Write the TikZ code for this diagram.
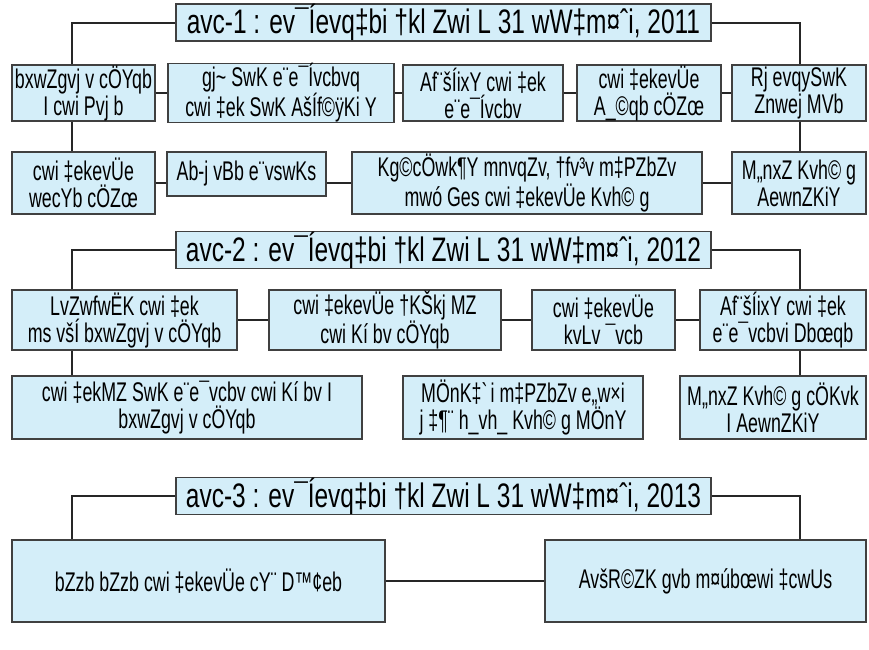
\documentclass[tikz,border=0pt]{standalone}
\usepackage{fontspec}
\setmainfont[FakeStretch=0.66]{Liberation Sans}
\newfontfamily\headfont[FakeStretch=0.72]{Liberation Sans}
\definecolor{boxfill}{HTML}{D4EEF9}

\begin{document}
\begin{tikzpicture}[x=1pt,y=-1pt,
    box/.style={draw=black!75,fill=boxfill,line width=1.2pt,align=center,inner sep=0pt,font=\fontsize{27}{27}\selectfont},
    head/.style={box,minimum width=535pt,minimum height=37pt,font=\headfont\fontsize{34}{34}\selectfont},
    link/.style={draw=black!85,line width=2pt}]
    \useasboundingbox (0,0) rectangle (869,649);
    \coordinate (lx) at (72,0);
    \coordinate (rx) at (800,0);

    \node[head] (h1) at (443.5,22.5) {avc-1 : ev¯Íevq‡bi †kl Zwi L 31 wW‡m¤ˆi, 2011};
    \node[box,minimum width=143pt,minimum height=56pt] (r1a) at (83.5,93) {bxwZgvj v cÖYqb\\I cwi Pvj b};
    \node[box,minimum width=226pt,minimum height=56pt] (r1b) at (281,93) {gj\textasciitilde{} SwK e¨e¯Ívcbvq\\cwi ‡ek SwK AšÍf©ÿKi Y};
    \node[box,minimum width=160pt,minimum height=56pt] (r1c) at (483,93) {Af¨šÍixY cwi ‡ek\\e¨e¯Ívcbv};
    \node[box,minimum width=144pt,minimum height=56pt] (r1d) at (649,93) {cwi ‡ekevÜe\\A\_©qb cÖZœ};
    \node[box,minimum width=134pt,minimum height=56pt] (r1e) at (799,93) {Rj evqySwK\\Znwej MVb};

    \node[box,minimum width=143pt,minimum height=62pt] (r2a) at (83.5,183) {cwi ‡ekevÜe\\wecYb cÖZœ};
    \node[box,minimum width=159pt,minimum height=44pt] (r2b) at (246.5,174) {Ab-j vBb e¨vswKs};
    \node[box,minimum width=350pt,minimum height=62pt] (r2c) at (527,183) {Kg©cÖwk¶Y mnvqZv, †fv³v m‡PZbZv\\mwó Ges cwi ‡ekevÜe Kvh© g};
    \node[box,minimum width=134pt,minimum height=62pt] (r2d) at (799,183) {M„nxZ Kvh© g\\AewnZKiY};

    \node[head] (h2) at (443.5,250) {avc-2 : ev¯Íevq‡bi †kl Zwi L 31 wW‡m¤ˆi, 2012};
    \node[box,minimum width=225pt,minimum height=60pt] (r3a) at (124.5,320) {LvZwfwËK cwi ‡ek\\ms všÍ bxwZgvj v cÖYqb};
    \node[box,minimum width=232pt,minimum height=60pt] (r3b) at (385,320) {cwi ‡ekevÜe †KŠkj MZ\\cwi Kí bv cÖYqb};
    \node[box,minimum width=143pt,minimum height=60pt] (r3c) at (603.5,320) {cwi ‡ekevÜe\\kvLv ¯vcb};
    \node[box,minimum width=166pt,minimum height=60pt] (r3d) at (783,320) {Af¨šÍixY cwi ‡ek\\e¨e¯vcbvi Dbœqb};

    \node[box,minimum width=350pt,minimum height=63pt] (r4a) at (187,407.5) {cwi ‡ekMZ SwK e¨e¯vcbv cwi Kí bv I\\bxwZgvj v cÖYqb};
    \node[box,minimum width=240pt,minimum height=63pt] (r4b) at (523,407.5) {MÖnK‡\textasciigrave i m‡PZbZv e„w×i\\j ‡¶¨ h\_vh\_ Kvh© g MÖnY};
    \node[box,minimum width=186pt,minimum height=63pt] (r4c) at (773,407.5) {M„nxZ Kvh© g cÖKvk\\I AewnZKiY};

    \node[head] (h3) at (443.5,496) {avc-3 : ev¯Íevq‡bi †kl Zwi L 31 wW‡m¤ˆi, 2013};
    \node[box,minimum width=373pt,minimum height=82pt] (r5a) at (198.5,581) {bZzb bZzb cwi ‡ekevÜe cY¨ D™¢eb};
    \node[box,minimum width=321pt,minimum height=82pt] (r5b) at (705.5,581) {AvšR©ZK gvb m¤úbœwi ‡cwUs};

    \draw[link] (h1.west) -| (r1a.north -| lx);
    \draw[link] (h1.east) -| (r1e.north -| rx);
    \draw[link] (r1a) -- (r1b);
    \draw[link] (r1b) -- (r1c);
    \draw[link] (r1c) -- (r1d);
    \draw[link] (r1d) -- (r1e);
    \draw[link] (r1a.south -| lx) -- (r2a.north -| lx);
    \draw[link] (r1e.south -| rx) -- (r2d.north -| rx);
    \draw[link] (r2a.east) -- (r2a.east -| r2b.west);
    \draw[link] (r2b.east |- r2c.west) -- (r2c.west);
    \draw[link] (r2c) -- (r2d);

    \draw[link] (h2.west) -| (r3a.north -| lx);
    \draw[link] (h2.east) -| (r3d.north -| rx);
    \draw[link] (r3a) -- (r3b);
    \draw[link] (r3b) -- (r3c);
    \draw[link] (r3c) -- (r3d);
    \draw[link] (r3a.south -| lx) -- (r4a.north -| lx);
    \draw[link] (r3d.south -| rx) -- (r4c.north -| rx);

    \draw[link] (h3.west) -| (r5a.north -| lx);
    \draw[link] (h3.east) -| (r5b.north -| rx);
    \draw[link] (r5a) -- (r5b);
\end{tikzpicture}
\end{document}
